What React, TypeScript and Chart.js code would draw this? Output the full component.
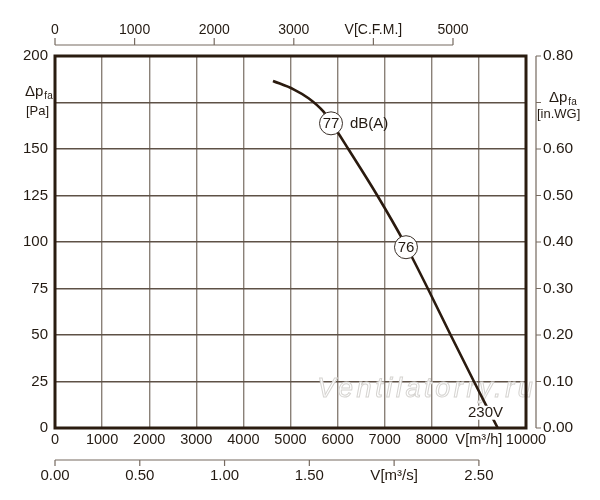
import React, { useEffect, useRef } from "react";
import { Chart, registerables } from "chart.js";

Chart.register(...registerables);

// ---- data ----
const flowM3h = [4628, 5065, 5383, 5701, 5860, 6227, 6843, 7410, 7915, 8400, 8895, 9400];
const pressurePa = [186.6, 182.1, 177.3, 170.1, 164.5, 150, 125, 100, 75, 50, 25, 0];

const noiseFlowM3h = [5860, 7452];
const noisePa = [163.8, 97.2];
const noiseLabels = ["77", "76"];

const flowTicks = [0, 1000, 2000, 3000, 4000, 5000, 6000, 7000, 8000, 9000, 10000];
const flowTickLabels = ["0", "1000", "2000", "3000", "4000", "5000", "6000", "7000", "8000", "V[m³/h]", "10000"];
const pressureTicks = [0, 25, 50, 75, 100, 125, 150, 175, 200];
const pressureTickLabels = ["0", "25", "50", "75", "100", "125", "150", "", "200"];
const cfmTicks = [0, 1000, 2000, 3000, 4000, 5000];
const cfmTickLabels = ["0", "1000", "2000", "3000", "V[C.F.M.]", "5000"];
const m3sTicks = [0, 0.5, 1, 1.5, 2, 2.5];
const m3sTickLabels = ["0.00", "0.50", "1.00", "1.50", "V[m³/s]", "2.50"];
const inwgTicks = [0, 0.1, 0.2, 0.3, 0.4, 0.5, 0.6, 0.7, 0.8];
const inwgTickLabels = ["0.00", "0.10", "0.20", "0.30", "0.40", "0.50", "0.60", "", "0.80"];

const M3H_PER_CFM = 1.69;
const M3H_PER_M3S = 3600;
const PA_PER_INWG = 250;

const voltageLabel = "230V";
const noiseUnit = "dB(A)";
const watermark = "Ventilatorry.ru";

// ---- styles ----
const FONT = '"Liberation Sans", Arial, sans-serif';
const TEXT = "#231a12";
const AXIS = "#766a60";

const decor = {
  id: "decor",
  beforeDatasetsDraw(chart: any) {
    const ctx = chart.ctx as CanvasRenderingContext2D;
    const x = chart.scales.x;
    const y = chart.scales.y;
    ctx.save();
    // watermark
    ctx.font = `italic 27px ${FONT}`;
    (ctx as any).letterSpacing = "3.6px";
    ctx.textAlign = "left";
    ctx.textBaseline = "alphabetic";
    ctx.fillStyle = "rgba(255,255,255,0.92)";
    ctx.strokeStyle = "#d6d4d1";
    ctx.lineWidth = 1;
    const wx = x.getPixelForValue(5570);
    const wy = y.getPixelForValue(16.5);
    ctx.fillText(watermark, wx, wy);
    ctx.strokeText(watermark, wx, wy);
    ctx.restore();
  },
  afterDatasetsDraw(chart: any) {
    const ctx = chart.ctx as CanvasRenderingContext2D;
    const x = chart.scales.x;
    const y = chart.scales.y;
    const area = chart.chartArea;
    ctx.save();

    // voltage label with white backing (hides the curve behind it)
    ctx.font = `15px ${FONT}`;
    ctx.textAlign = "center";
    ctx.textBaseline = "middle";
    const vx = x.getPixelForValue(9140);
    const vy = y.getPixelForValue(8.2);
    const vw = ctx.measureText(voltageLabel).width;
    ctx.fillStyle = "#ffffff";
    ctx.fillRect(vx - vw / 2 - 1, vy - 7, vw + 2, 14);
    ctx.fillStyle = TEXT;
    ctx.fillText(voltageLabel, vx, vy);

    // frame
    ctx.strokeStyle = "#2a1c10";
    ctx.lineWidth = 3;
    ctx.strokeRect(area.left, area.top, area.right - area.left, area.bottom - area.top);

    ctx.fillStyle = TEXT;

    // bottom m3/h labels
    ctx.font = `14.5px ${FONT}`;
    ctx.textAlign = "center";
    ctx.textBaseline = "middle";
    flowTicks.forEach((v, i) => {
      ctx.fillText(flowTickLabels[i], x.getPixelForValue(v), area.bottom + 12);
    });

    // left Pa labels
    ctx.font = `15px ${FONT}`;
    ctx.textAlign = "right";
    pressureTicks.forEach((v, i) => {
      if (pressureTickLabels[i]) ctx.fillText(pressureTickLabels[i], 48, y.getPixelForValue(v));
    });

    // right in.WG axis
    const rx = area.right + 10;
    ctx.strokeStyle = AXIS;
    ctx.lineWidth = 1.2;
    ctx.beginPath();
    ctx.moveTo(rx, y.getPixelForValue(0));
    ctx.lineTo(rx, y.getPixelForValue(inwgTicks[inwgTicks.length - 1] * PA_PER_INWG));
    inwgTicks.forEach((v) => {
      const py = y.getPixelForValue(v * PA_PER_INWG);
      ctx.moveTo(rx, py);
      ctx.lineTo(rx + 5, py);
    });
    ctx.stroke();
    ctx.font = `15.5px ${FONT}`;
    ctx.textAlign = "left";
    inwgTicks.forEach((v, i) => {
      if (inwgTickLabels[i]) ctx.fillText(inwgTickLabels[i], rx + 7, y.getPixelForValue(v * PA_PER_INWG));
    });

    // top CFM axis
    const ty = area.top - 11;
    ctx.beginPath();
    ctx.moveTo(x.getPixelForValue(0), ty);
    ctx.lineTo(x.getPixelForValue(cfmTicks[cfmTicks.length - 1] * M3H_PER_CFM), ty);
    cfmTicks.forEach((v) => {
      const px = x.getPixelForValue(v * M3H_PER_CFM);
      ctx.moveTo(px, ty);
      ctx.lineTo(px, ty - 7);
    });
    ctx.stroke();
    ctx.font = `14px ${FONT}`;
    ctx.textAlign = "center";
    cfmTicks.forEach((v, i) => {
      ctx.fillText(cfmTickLabels[i], x.getPixelForValue(v * M3H_PER_CFM), ty - 15);
    });

    // bottom m3/s axis
    const by = area.bottom + 32;
    ctx.beginPath();
    ctx.moveTo(x.getPixelForValue(0), by);
    ctx.lineTo(x.getPixelForValue(m3sTicks[m3sTicks.length - 1] * M3H_PER_M3S), by);
    m3sTicks.forEach((v) => {
      const px = x.getPixelForValue(v * M3H_PER_M3S);
      ctx.moveTo(px, by);
      ctx.lineTo(px, by + 6);
    });
    ctx.stroke();
    ctx.font = `15px ${FONT}`;
    m3sTicks.forEach((v, i) => {
      ctx.fillText(m3sTickLabels[i], x.getPixelForValue(v * M3H_PER_M3S), by + 16);
    });

    // axis unit labels (Δp_fa)
    const drawDp = (lx: number, ly: number) => {
      ctx.textAlign = "left";
      ctx.font = `15px ${FONT}`;
      ctx.fillText("Δp", lx, ly);
      const w = ctx.measureText("Δp").width;
      ctx.font = `10px ${FONT}`;
      ctx.fillText("fa", lx + w + 1, ly + 5);
    };
    const y175 = y.getPixelForValue(175);
    drawDp(25, y175 - 11);
    ctx.font = `13px ${FONT}`;
    ctx.fillText("[Pa]", 26, y175 + 9);
    drawDp(549, y175 - 5);
    ctx.font = `13px ${FONT}`;
    ctx.fillText("[in.WG]", 537, y175 + 12);

    // noise labels in circles
    ctx.font = `15px ${FONT}`;
    ctx.textAlign = "center";
    noiseFlowM3h.forEach((v, i) => {
      ctx.fillText(noiseLabels[i], x.getPixelForValue(v), y.getPixelForValue(noisePa[i]) + 1);
    });
    ctx.textAlign = "left";
    ctx.fillText(noiseUnit, x.getPixelForValue(noiseFlowM3h[0]) + 19, y.getPixelForValue(noisePa[0]) + 1);

    ctx.restore();
  },
};

export default function App() {
  const ref = useRef<HTMLCanvasElement>(null);
  useEffect(() => {
    const canvas = ref.current;
    if (!canvas) return;
    const chart = new Chart(canvas, {
      type: "line",
      data: {
        datasets: [
          {
            label: "noise",
            data: noiseFlowM3h.map((v, i) => ({ x: v, y: noisePa[i] })),
            showLine: false,
            pointRadius: 11.5,
            pointBackgroundColor: "#ffffff",
            pointBorderColor: "#3a3029",
            pointBorderWidth: 1,
            order: 0,
          },
          {
            label: "230V",
            data: flowM3h.map((v, i) => ({ x: v, y: pressurePa[i] })),
            borderColor: "#2a1a0e",
            borderWidth: 2.6,
            pointRadius: 0,
            cubicInterpolationMode: "monotone",
            fill: false,
            order: 1,
          },
        ],
      },
      options: {
        animation: false,
        responsive: false,
        events: [],
        layout: { padding: { left: 55, top: 56, right: 74, bottom: 72 } },
        plugins: { legend: { display: false }, tooltip: { enabled: false } },
        scales: {
          x: {
            type: "linear",
            min: 0,
            max: 10000,
            ticks: { display: false, stepSize: 1000 },
            grid: { color: "#8a8178", lineWidth: 1.4, drawTicks: false },
            border: { display: false },
          },
          y: {
            type: "linear",
            min: 0,
            max: 200,
            ticks: { display: false, stepSize: 25 },
            grid: { color: "#5e5146", lineWidth: 1.4, drawTicks: false },
            border: { display: false },
          },
        },
      },
      plugins: [decor],
    } as any);
    return () => chart.destroy();
  }, []);
  return (
    <div style={{ position: "absolute", left: 0, top: 0, width: 600, height: 500, background: "#fff" }}>
      <canvas ref={ref} width={600} height={500} style={{ display: "block", width: 600, height: 500 }} />
    </div>
  );
}
